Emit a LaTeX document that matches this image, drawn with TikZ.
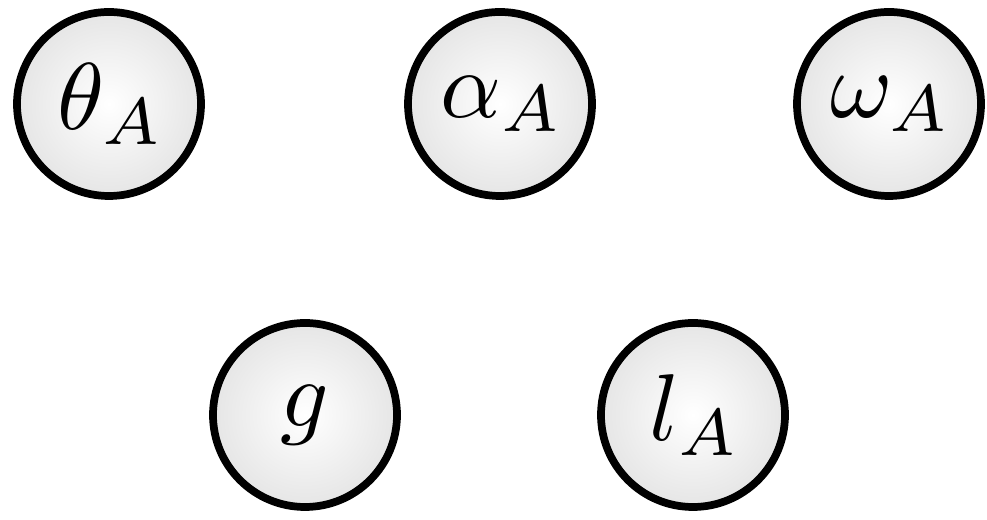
\RequirePackage{fix-cm}
\documentclass[tikz,border=0pt]{standalone}
\usepackage{tikz}
\usetikzlibrary{shadows}
% heavier designs of the math italic, scaled up
\DeclareFontShape{OML}{cmm}{m}{it}{<-45> cmmi7 <45-> cmmi10}{}
\tikzset{
  var/.style = {draw=black, circle, line width=4.4pt, minimum size=3.68cm,
                inner sep=0pt, shading=radial, inner color=white, outer color=gray!20,
                drop shadow={opacity=0.18, shadow xshift=0.05cm, shadow yshift=-0.05cm},
                font=\fontsize{54}{60}\selectfont}
}

\begin{document}
\begin{tikzpicture}
\useasboundingbox (0,0) rectangle (19.74,10.4);

% top row: state variables
\node[var] (theta) at (2.18, 8.32) {$\theta_A$};
\node[var] (alpha) at (10.00,8.32) {$\alpha_A$};
\node[var] (omega) at (17.78,8.32) {$\omega_A$};

% bottom row: parameters
\node[var] (grav) at (6.10, 2.10) {$g$};
\node[var] (len)  at (13.86,2.10) {$l_A$};
\end{tikzpicture}
\end{document}
